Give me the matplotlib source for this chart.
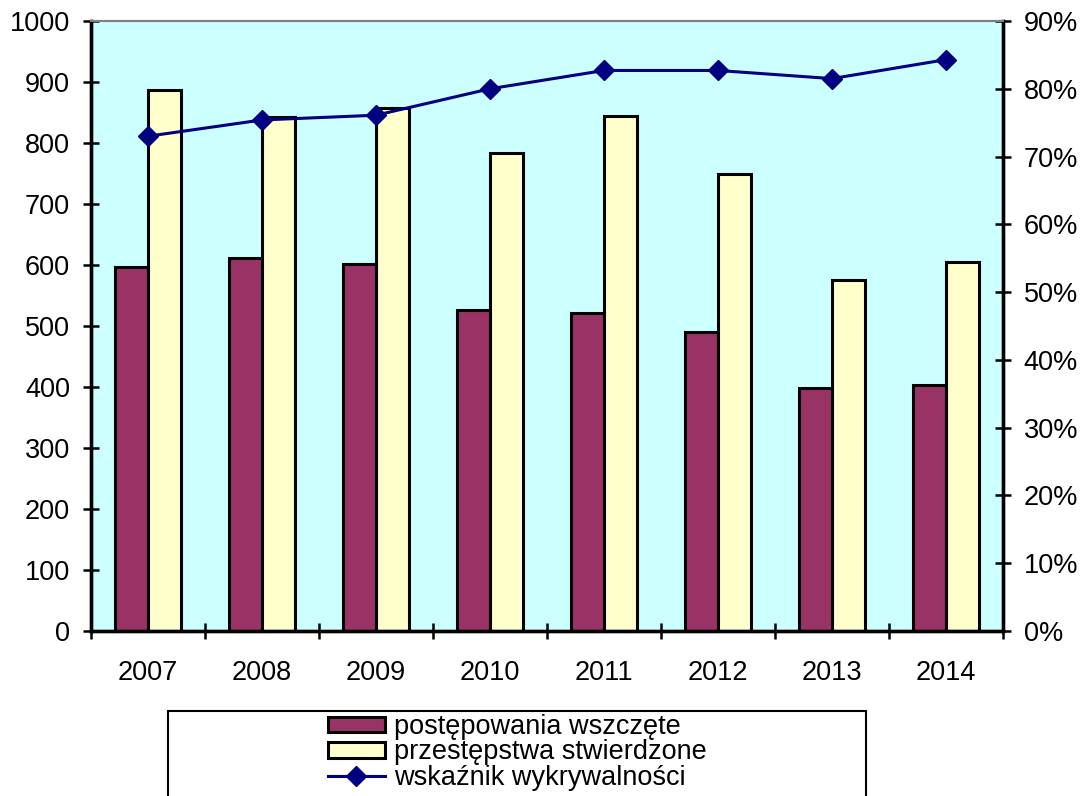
import numpy as np
import matplotlib.pyplot as plt
from matplotlib.patches import Rectangle
from matplotlib.lines import Line2D
from matplotlib.ticker import FuncFormatter

plt.rcParams['font.family'] = ['Liberation Sans', 'DejaVu Sans']

# dane
lata = ['2007', '2008', '2009', '2010', '2011', '2012', '2013', '2014']
wszczete = [597, 611, 601, 526, 522, 490, 398, 403]
stwierdzone = [887, 842, 858, 783, 844, 750, 575, 605]
wykrywalnosc = [73.0, 75.4, 76.1, 80.0, 82.7, 82.7, 81.5, 84.3]

kolor_bordo = '#993366'
kolor_zolty = '#FFFFCC'
kolor_linia = '#000080'
tlo = '#CCFFFF'
fs = 19.5

fig = plt.figure(figsize=(10.9, 7.96), dpi=100)
ax = fig.add_axes([91/1090, 1 - 631/796, (1003-91)/1090, (631-21)/796])
ax.set_facecolor(tlo)

x = np.arange(len(lata))
w = 0.29
ax.bar(x - w/2, wszczete, w, color=kolor_bordo, edgecolor='black', linewidth=2.2, zorder=2)
ax.bar(x + w/2, stwierdzone, w, color=kolor_zolty, edgecolor='black', linewidth=2.2, zorder=2)
ax.set_xlim(-0.5, len(lata) - 0.5)
ax.set_ylim(0, 1000)
ax.set_yticks(np.arange(0, 1001, 100))

ax2 = ax.twinx()
ax2.plot(x, wykrywalnosc, color=kolor_linia, linewidth=2.2, marker='D', markersize=10.5, zorder=3)
ax2.set_ylim(0, 90)
ax2.set_yticks(np.arange(0, 91, 10))
ax2.yaxis.set_major_formatter(FuncFormatter(lambda v, p: f'{v:.0f}%'))

# osie
ax.set_xticks(x)
ax.set_xticklabels(lata)
ax.set_xticks(np.arange(-0.5, len(lata)), minor=True)
ax.tick_params(axis='x', which='major', length=0, pad=21, labelsize=fs)
ax.tick_params(axis='x', which='minor', direction='inout', length=12, width=1.8)
ax.tick_params(axis='y', direction='inout', length=12, width=1.8, pad=9, labelsize=fs)
ax2.tick_params(axis='y', direction='inout', length=12, width=1.8, pad=9, labelsize=fs)

for a in (ax, ax2):
    a.spines['left'].set_linewidth(2.4)
    a.spines['bottom'].set_linewidth(2.4)
    a.spines['right'].set_linewidth(2.4)
    a.spines['top'].set_color('#808080')
    a.spines['top'].set_linewidth(1.5)

# legenda
fig.patches.append(Rectangle((168/1090, -0.05), (866-168)/1090, 0.05 + 1 - 711/796,
                             transform=fig.transFigure, facecolor='white',
                             edgecolor='black', linewidth=1.5))
uchwyty = [
    Rectangle((0, 0), 1, 1, facecolor=kolor_bordo, edgecolor='black', linewidth=2.2),
    Rectangle((0, 0), 1, 1, facecolor=kolor_zolty, edgecolor='black', linewidth=2.2),
    Line2D([], [], color=kolor_linia, linewidth=2.2, marker='D', markersize=10.5),
]
opisy = ['postępowania wszczęte', 'przestępstwa stwierdzone', 'wskaźnik wykrywalności']
fig.legend(uchwyty, opisy, loc='upper left', bbox_to_anchor=(328/1090, 1 - 714/796),
           frameon=False, fontsize=fs, handlelength=2.1, handleheight=0.5,
           handletextpad=0.35, labelspacing=-0.02, borderpad=0, borderaxespad=0)

plt.savefig('out.png', dpi=100)
